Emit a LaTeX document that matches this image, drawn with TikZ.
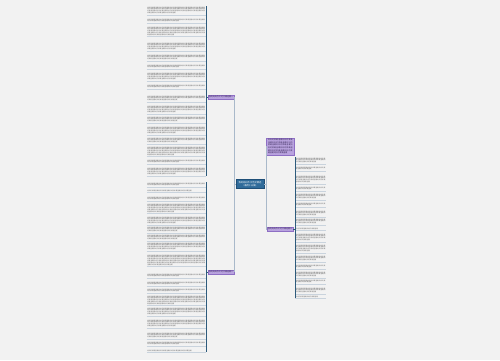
\documentclass[tikz,border=0pt]{standalone}
\usepackage{fontspec}
\newfontfamily\cjk{Noto Sans CJK SC}
\XeTeXlinebreaklocale "zh"
\XeTeXlinebreakskip=0pt plus 0.5pt
\usetikzlibrary{positioning}
\definecolor{bgcol}{HTML}{F2F2F2}
\definecolor{rootfill}{HTML}{2F6B9A}
\definecolor{rootline}{HTML}{1F4F78}
\definecolor{topicfill}{HTML}{B9A3DF}
\definecolor{topicline}{HTML}{8E6FC4}
\definecolor{topictext}{HTML}{3A2A5A}
\definecolor{linkcol}{HTML}{A9B9CA}
\definecolor{stemcol}{HTML}{2E5B7C}
\definecolor{leaftext}{HTML}{6E6E6E}
\definecolor{undercol}{HTML}{C9D3DD}
\newcommand\fillertxt[1]{\foreach \k in {1,...,#1}{妈妈的爱最温暖}}

\begin{document}
\begin{tikzpicture}[x=0.02cm, y=-0.02cm,
  root/.style={draw=rootline, line width=0.2pt, fill=rootfill, text=white, align=center, minimum width=0.56cm, minimum height=0.18cm, inner sep=0.4pt, font=\cjk\fontsize{1.3}{1.7}\selectfont},
  topic/.style={draw=topicline, line width=0.2pt, fill=topicfill, text=topictext, minimum width=0.52cm, minimum height=0.07cm, inner sep=0.3pt, font=\cjk\fontsize{1.15}{1.3}\selectfont},
  leaf/.style={text width=1.16cm, inner sep=0.2pt, align=left, text=leaftext, font=\cjk\fontsize{0.9}{1.1}\selectfont},
  rleaf/.style={leaf, text width=0.6cm},
  link/.style={draw=linkcol, line width=0.35pt},
  stem/.style={draw=stemcol, line width=0.4pt},
  under/.style={draw=undercol, line width=0.15pt}]
\fill[bgcol] (0,0) rectangle (500,360);
\useasboundingbox (0,0) rectangle (500,360);

% centre
\node[root] (root) at (250,184) {我的妈妈作文范文精选\\（通用十五篇）};

% topics
\node[topic] (ta) at (221,97) {我的妈妈作文范文精选篇一};
\node[topic] (tb) at (221,272) {我的妈妈作文范文精选篇二};
\node[topic, text width=0.5cm, align=left, font=\cjk\fontsize{1.1}{1.45}\selectfont, inner sep=0.8pt] (tc) at (280.5,146.5) {\fillertxt{10}};
\node[topic] (td) at (280,229) {我的妈妈作文范文精选篇三};

% left leaves, first group
\foreach \y/\c [count=\i] in {6/18,18/8,26/23,42/18,54/13,64/8,72/18,84/8,95/13,105/18,116/13,126/18,137/13,146/23,159/8,167/18}
  \node[leaf, anchor=north east] (la\i) at (206,\y) {\fillertxt{\c}};
% left leaves, second group
\foreach \y/\c [count=\i] in {182/8,189/4,196/8,203/23,216/18,226/13,234/13,242/18,254/28,273/8,281/8,288/8,295/23,307/18,319/18,332/13,341/8,349/4}
  \node[leaf, anchor=north east] (lb\i) at (206,\y) {\fillertxt{\c}};
% right leaves
\foreach \y/\c [count=\i] in {157/7,166/4,175/9,186/4,193/7,202/4,210/7,218/7,227/2,233/9,244/9,255/7,264/4,271/7,279/4,287/7,295/2}
  \node[rleaf, anchor=north west] (lc\i) at (295,\y) {\fillertxt{\c}};

% connectors
\coordinate (rj) at (266,184);
\draw[link] (root.west) -| (ta.east);
\draw[link] (root.west) -| (tb.east);
\draw[link] (root.east) -- (rj) |- (tc.west);
\draw[link] (rj) |- (td.west);

\foreach \i in {1,...,16} \draw[under] (la\i.south west) -- (la\i.south east);
\foreach \i in {1,...,18} \draw[under] (lb\i.south west) -- (lb\i.south east);
\foreach \i in {1,...,17} \draw[under] (lc\i.south west) -- (lc\i.south east);

\draw[stem] (la1.north east) -- (la16.south east);
\draw[stem] (ta.west) -- (ta.west -| la1.east);
\draw[stem] (lb1.north east) -- (lb18.south east);
\draw[stem] (tb.west) -- (tb.west -| lb1.east);
\draw[stem] (lc1.north west) -- (lc17.south west);
\draw[stem] (td.east) -- (td.east -| lc1.west);
\end{tikzpicture}
\end{document}
